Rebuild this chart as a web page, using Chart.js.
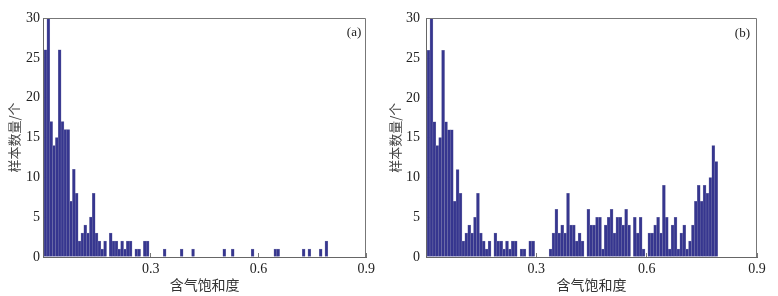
<!DOCTYPE html>
<html>
<head>
<meta charset="utf-8">
<script src="https://cdn.jsdelivr.net/npm/chart.js@4.4.0/dist/chart.umd.min.js"></script>
<style>
body { margin: 0; background: #fff; }
#wrap { position: relative; width: 778px; height: 296px; }
canvas { position: absolute; top: 0; }
</style>
</head>
<body>
<div id="wrap">
<canvas id="chartA" width="383" height="296" style="left:0px"></canvas>
<canvas id="chartB" width="395" height="296" style="left:383px"></canvas>
</div>
<script>
// histogram bins (100 bins)
var binStart = 0.003;
var binWidth = 0.0079;

var countsA = [
    26, 30, 17, 14, 15, 26, 17, 16, 16, 7,
    11, 8, 2, 3, 4, 3, 5, 8, 3, 2,
    1, 2, 0, 3, 2, 2, 1, 2, 1, 2,
    2, 0, 1, 1, 0, 2, 2, 0, 0, 0,
    0, 0, 1, 0, 0, 0, 0, 0, 1, 0,
    0, 0, 1, 0, 0, 0, 0, 0, 0, 0,
    0, 0, 0, 1, 0, 0, 1, 0, 0, 0,
    0, 0, 0, 1, 0, 0, 0, 0, 0, 0,
    0, 1, 1, 0, 0, 0, 0, 0, 0, 0,
    0, 1, 0, 1, 0, 0, 0, 1, 0, 2
];

var countsB = [
    26, 30, 17, 14, 15, 26, 17, 16, 16, 7,
    11, 8, 2, 3, 4, 3, 5, 8, 3, 2,
    1, 2, 0, 3, 2, 2, 1, 2, 1, 2,
    2, 0, 1, 1, 0, 2, 2, 0, 0, 0,
    0, 0, 1, 3, 6, 3, 4, 3, 8, 4,
    4, 2, 3, 2, 0, 6, 4, 4, 5, 5,
    1, 4, 5, 6, 3, 5, 5, 4, 6, 4,
    0, 5, 3, 5, 1, 0, 3, 3, 4, 5,
    3, 9, 5, 1, 4, 5, 1, 3, 4, 1,
    2, 4, 7, 9, 7, 9, 8, 10, 14, 12
];

var xMax = 0.9, xStep = 0.3;
var yMax = 30, yStep = 5;
var xTitle = '含气饱和度';
var yTitle = '样本数量/个';

var tickFont = { family: '"Liberation Serif", "Times New Roman", serif', size: 14 };
var xTitleFont = { family: '"Noto Sans CJK SC", sans-serif', size: 14 };
var yTitleFont = { family: '"Noto Sans CJK SC", sans-serif', size: 13 };

function binPoints(counts) {
    var pts = [];
    for (var i = 0; i < counts.length; i++) {
        pts.push({ x: binStart + (i + 0.5) * binWidth, y: counts[i] });
    }
    return pts;
}

// top/right frame and the panel letter
var framePlugin = {
    id: 'frame',
    afterDraw: function(chart, args, opts) {
        var a = chart.chartArea;
        var ctx = chart.ctx;
        ctx.save();
        ctx.strokeStyle = '#777';
        ctx.lineWidth = 1;
        ctx.beginPath();
        ctx.moveTo(Math.round(a.left) + 0.5, Math.round(a.top) + 0.5);
        ctx.lineTo(Math.round(a.right) - 0.5, Math.round(a.top) + 0.5);
        ctx.lineTo(Math.round(a.right) - 0.5, Math.round(a.bottom));
        ctx.stroke();
        ctx.fillStyle = '#222';
        ctx.font = '13px "Liberation Serif", serif';
        ctx.textAlign = 'right';
        ctx.textBaseline = 'middle';
        ctx.fillText(opts.text, a.right - opts.dx, a.top + 15);
        ctx.restore();
    }
};

function makeChart(id, counts, p) {
    var ctx = document.getElementById(id).getContext('2d');
    return new Chart(ctx, {
        type: 'bar',
        data: {
            datasets: [{
                data: binPoints(counts),
                backgroundColor: '#36368f',
                borderColor: '#7d7dae',
                borderWidth: 0.5,
                borderSkipped: 'start',
                barPercentage: 1,
                categoryPercentage: 1
            }]
        },
        plugins: [framePlugin],
        options: {
            responsive: false,
            animation: false,
            devicePixelRatio: 1,
            layout: { padding: { top: p.top, right: p.right, left: 0, bottom: 0 } },
            scales: {
                x: {
                    type: 'linear',
                    min: 0,
                    max: xMax,
                    offset: false,
                    grid: { drawOnChartArea: false, offset: false, tickLength: -4, color: '#777' },
                    border: { color: '#666', width: 1 },
                    ticks: {
                        stepSize: xStep,
                        padding: 8,
                        color: '#222',
                        font: tickFont,
                        maxRotation: 0,
                        callback: function(v) { return v === 0 ? '' : v.toFixed(1); }
                    },
                    title: { display: true, text: xTitle, color: '#333', font: xTitleFont, padding: { top: 0, bottom: 3 } },
                    afterFit: function(s) { s.height = 39; }
                },
                y: {
                    min: 0,
                    max: yMax,
                    grid: { drawOnChartArea: false, tickLength: -4, color: '#777' },
                    border: { color: '#666', width: 1 },
                    ticks: { stepSize: yStep, padding: p.yPad, color: '#222', font: tickFont },
                    title: { display: true, text: yTitle, color: '#444', font: yTitleFont, padding: { top: p.titlePad, bottom: 0 } },
                    afterFit: function(s) { s.width = 43; }
                }
            },
            plugins: {
                legend: { display: false },
                tooltip: { enabled: false },
                frame: { text: p.label, dx: p.dx }
            }
        }
    });
}

makeChart('chartA', countsA, { top: 18, right: 10, yPad: 7, titlePad: 6, label: '(a)', dx: 5 });
makeChart('chartB', countsB, { top: 17, right: 21, yPad: 10, titlePad: 4, label: '(b)', dx: 7 });
</script>
</body>
</html>
